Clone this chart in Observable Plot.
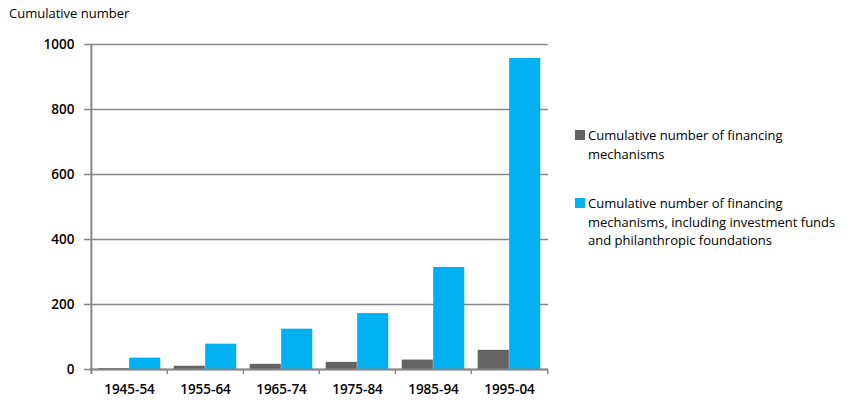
<!DOCTYPE html>
<html><head><meta charset="utf-8">
<script src="https://cdn.jsdelivr.net/npm/d3@7"></script>
<script src="https://cdn.jsdelivr.net/npm/@observablehq/plot@0.6"></script>
<style>
body{margin:0;background:#fff;font-family:"Open Sans",sans-serif;}
#wrap{position:relative;width:853px;height:407px;}
#title{position:absolute;left:9px;top:4px;font-size:13px;color:#000;}
.leg{position:absolute;left:575px;font-size:13px;line-height:18.5px;color:#000;white-space:nowrap;}
.leg span.sw{position:absolute;left:0;top:4px;width:10px;height:10px;}
.leg div.t{margin-left:13px;}
</style></head>
<body><div id="wrap"><div id="title">Cumulative number</div></div>
<script>
const periods = ["1945-54","1955-64","1965-74","1975-84","1985-94","1995-04"];
const mechanisms = [3, 10, 16, 22, 29, 59];
const withFunds = [35, 78, 124, 172, 314, 957];
const seriesLines = [
  ["Cumulative number of financing", "mechanisms"],
  ["Cumulative number of financing", "mechanisms, including investment funds", "and philanthropic foundations"]
];
const colors = ["#636363", "#00B0F0"];
const yTicks = [0, 200, 400, 600, 800, 1000];

const W = 853, H = 407, mL = 90, mR = 305, mT = 44, mB = 38;
const step = (W - mL - mR) / periods.length;
const axisColor = "#878787";

const data1 = periods.map((p, i) => ({p, v: mechanisms[i]}));
const data2 = periods.map((p, i) => ({p, v: withFunds[i]}));

const chart = Plot.plot({
  width: W, height: H,
  marginLeft: mL, marginRight: mR, marginTop: mT, marginBottom: mB,
  style: {fontFamily: "'Open Sans', sans-serif", fontSize: "13.5px", color: "#000", background: "transparent"},
  x: {domain: periods, padding: 0, axis: null},
  y: {domain: [0, 1000], axis: null},
  marks: [
    Plot.ruleY(yTicks, {stroke: axisColor, strokeWidth: 1.5, insetLeft: -6}),
    Plot.barY(data1, {x: "p", y: "v", fill: colors[0], insetLeft: 0.088 * step, insetRight: 0.5 * step}),
    Plot.barY(data2, {x: "p", y: "v", fill: colors[1], insetLeft: 0.5 * step, insetRight: 0.088 * step}),
    Plot.ruleX([periods[0]], {x: d => d, dx: -step / 2, stroke: axisColor, strokeWidth: 2, insetBottom: -5}),
    Plot.ruleX(periods.slice(1), {x: d => d, dx: -step / 2, y1: 0, y2: 0, stroke: axisColor, strokeWidth: 1.5, insetBottom: -5}),
    Plot.ruleX([periods[periods.length - 1]], {x: d => d, dx: step / 2, y1: 0, y2: 0, stroke: axisColor, strokeWidth: 1.5, insetBottom: -5}),
    Plot.ruleY([0], {stroke: axisColor, strokeWidth: 2}),
    Plot.text(yTicks, {y: d => d, frameAnchor: "left", dx: -16, textAnchor: "end", text: d => String(d), fill: "#000", fontWeight: 600}),
    Plot.text(periods, {x: d => d, frameAnchor: "bottom", dy: 24, text: d => d, fill: "#000", fontWeight: 600})
  ]
});
const wrap = document.getElementById("wrap");
wrap.insertBefore(chart, wrap.firstChild);

const legTops = [126, 194];
seriesLines.forEach((lines, i) => {
  const d = document.createElement("div");
  d.className = "leg";
  d.style.top = legTops[i] + "px";
  d.innerHTML = `<span class="sw" style="background:${colors[i]}"></span><div class="t">${lines.join("<br>")}</div>`;
  wrap.appendChild(d);
});
</script></body></html>
